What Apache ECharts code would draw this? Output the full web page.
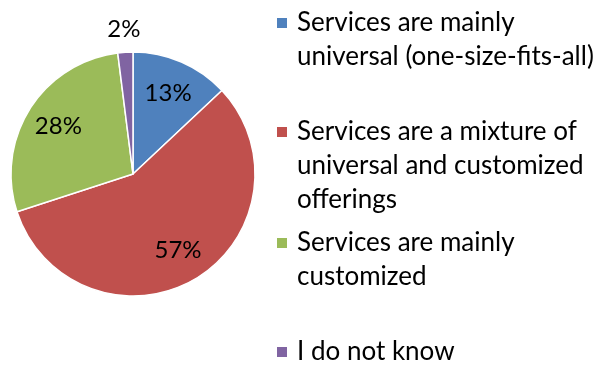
<!DOCTYPE html>
<html>
<head>
<meta charset="utf-8">
<script src="https://cdn.jsdelivr.net/npm/echarts@6/dist/echarts.min.js"></script>
<style>html,body{margin:0;padding:0;background:#fff}#c{width:597px;height:365px}</style>
</head>
<body>
<div id="c"></div>
<script>
const categories = [
  'Services are mainly universal (one-size-fits-all)',
  'Services are a mixture of universal and customized offerings',
  'Services are mainly customized',
  'I do not know'
];
const legendLines = [
  ['Services are mainly', 'universal (one-size-fits-all)'],
  ['Services are a mixture of', 'universal and customized', 'offerings'],
  ['Services are mainly', 'customized'],
  ['I do not know']
];
const values = [13, 57, 28, 2];
const colors = ['#4F81BD', '#C0504D', '#9BBB59', '#8064A2'];

const FONT = 'Lato';
const FS = 26;
const LH = 34;
const R = 122;
const CENTER = [133, 174];
const firstLineCenters = [23, 132, 243, 352];

const data = categories.map((n, i) => ({ name: n, value: values[i], itemStyle: { color: colors[i] } }));

const legends = categories.map((n, i) => {
  const k = legendLines[i].length;
  return {
    orient: 'vertical',
    left: 275,
    top: firstLineCenters[i] - (2 * k - 1) * LH / 2,
    padding: 0,
    icon: 'rect',
    itemWidth: 12,
    itemHeight: 12,
    selectedMode: false,
    data: [n],
    formatter: name => {
      const lines = legendLines[categories.indexOf(name)];
      return '\n'.repeat(lines.length - 1) + lines.join('\n');
    },
    textStyle: {
      fontFamily: FONT, fontSize: FS, lineHeight: LH, color: '#000',
      padding: [0, 0, 0, 4]
    }
  };
});

const labelStyle = { fontFamily: FONT, fontSize: 24, color: '#000', formatter: '{c}%' };

const option = {
  animation: false,
  legend: legends,
  series: [
    {
      type: 'pie', center: CENTER, radius: R, startAngle: 90, clockwise: true,
      data: data,
      label: { show: false }, labelLine: { show: false },
      itemStyle: { borderColor: '#fff', borderWidth: 1.5 },
      emphasis: { disabled: true }
    },
    {
      type: 'pie', center: CENTER, radius: [0, R * 1.4], startAngle: 90, clockwise: true, silent: true,
      data: categories.map((n, i) => ({ name: n, value: values[i], label: { show: i !== 3 } })),
      itemStyle: { color: 'rgba(0,0,0,0)' },
      label: Object.assign({ show: true, position: 'inside' }, labelStyle),
      labelLine: { show: false },
      emphasis: { disabled: true }
    },
    {
      type: 'pie', center: CENTER, radius: [0, R * 2.33], startAngle: 90, clockwise: true, silent: true,
      data: categories.map((n, i) => ({ name: n, value: values[i], label: { show: i === 3 } })),
      itemStyle: { color: 'rgba(0,0,0,0)' },
      label: Object.assign({ show: true, position: 'inside' }, labelStyle),
      labelLine: { show: false },
      emphasis: { disabled: true }
    }
  ]
};
const chart = echarts.init(document.getElementById('c'));
chart.setOption(option);
</script>
</body>
</html>
